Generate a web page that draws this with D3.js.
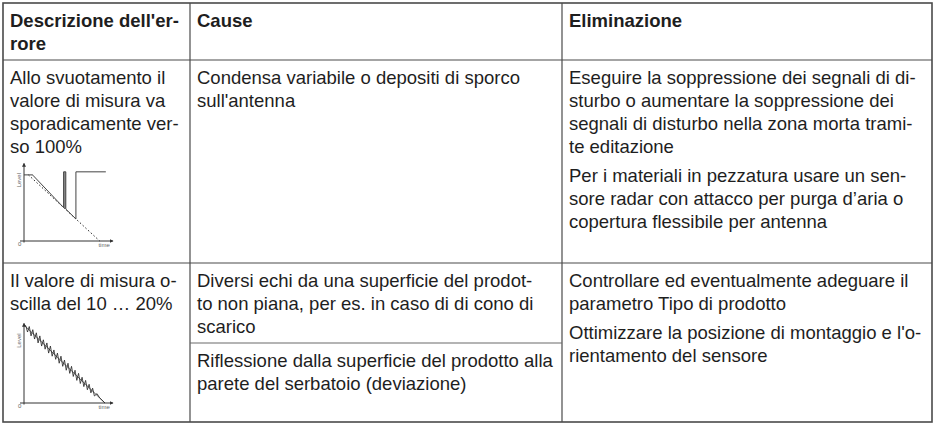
<!DOCTYPE html>
<html><head><meta charset="utf-8">
<script src="https://cdn.jsdelivr.net/npm/d3@7"></script>
<style>body{margin:0;background:#fff}svg{display:block}</style>
</head><body>
<svg id="c" width="935" height="425"></svg>
<script>
// ---------- data ----------
const headers = [["Descrizione dell'er-", "rore"], ["Cause"], ["Eliminazione"]];

const row1Desc = ["Allo svuotamento il", "valore di misura va", "sporadicamente ver-", "so 100%"];
const row1Causes = [["Condensa variabile o depositi di sporco", "sull'antenna"]];
const row1Remedies = [
  ["Eseguire la soppressione dei segnali di di-", "sturbo o aumentare la soppressione dei", "segnali di disturbo nella zona morta trami-", "te editazione"],
  ["Per i materiali in pezzatura usare un sen-", "sore radar con attacco per purga d\u2019aria o", "copertura flessibile per antenna"]
];

const row2Desc = ["Il valore di misura o-", "scilla del 10 \u2026 20%"];
const row2Causes = [
  ["Diversi echi da una superficie del prodot-", "to non piana, per es. in caso di di cono di", "scarico"],
  ["Riflessione dalla superficie del prodotto alla", "parete del serbatoio (deviazione)"]
];
const row2Remedies = [
  ["Controllare ed eventualmente adeguare il", "parametro Tipo di prodotto"],
  ["Ottimizzare la posizione di montaggio e l'o-", "rientamento del sensore"]
];

const axisLabels = {y: "Level", x: "time", origin: "0"};

// mini chart 1: real level (dashed), measured level with spikes to 100%
const chart1Real = [[5, 87], [86, 0]];
const chart1Measured = [[0, 87], [10, 87], [10.5, 86], [45, 44], [45, 91], [47.5, 91], [47.5, 42], [59, 29], [59, 91], [93, 91]];
const chart1Spike = [[45, 44], [45, 91], [47.5, 91], [47.5, 42]];

// mini chart 2: real level and oscillating measured level
const chart2Real = [[0, 100], [92, 0]];
const chart2Measured = [[0, 100], [2, 99], [4, 91], [6, 98], [8, 86], [10, 94], [12, 82], [14, 90], [16, 77], [18, 86], [20, 73], [22, 81], [24, 69], [26, 77], [28, 64], [30, 73], [32, 60], [34, 68], [36, 56], [38, 64], [40, 51], [42, 60], [44, 47], [46, 55], [48, 42], [50, 51], [52, 38], [54, 47], [56, 34], [58, 42], [60, 29], [62, 38], [64, 25], [66, 33], [68, 21], [70, 29], [72, 17], [74, 24], [76, 13], [78, 19], [80, 9], [83, 12], [86, 6.5], [92, 0]];

// ---------- layout ----------
const svg = d3.select("#c");
const colX = [3, 190, 562, 932];
const rowY = [3, 60, 263, 422];
const causeSplitY = 343;
const FS = 18.5, LH = 23, PGAP = 28.5, PADX = 7, BASE = 24;
const textColor = "#1e1e1e";
const lineColor = "#4a4a4a";

// borders
const g = svg.append("g");
g.append("rect").attr("x", colX[0]).attr("y", rowY[0])
  .attr("width", colX[3] - colX[0]).attr("height", rowY[3] - rowY[0])
  .attr("fill", "none").attr("stroke", lineColor).attr("stroke-width", 1.6);
[colX[1], colX[2]].forEach(x => g.append("line").attr("x1", x).attr("x2", x)
  .attr("y1", rowY[0]).attr("y2", rowY[3]).attr("stroke", lineColor).attr("stroke-width", 1.2));
[rowY[1], rowY[2]].forEach(y => g.append("line").attr("x1", colX[0]).attr("x2", colX[3])
  .attr("y1", y).attr("y2", y).attr("stroke", lineColor).attr("stroke-width", 1.2));
g.append("line").attr("x1", colX[1]).attr("x2", colX[2]).attr("y1", causeSplitY).attr("y2", causeSplitY)
  .attr("stroke", "#6a6a6a").attr("stroke-width", 1.1);

function para(x, top, paragraphs, bold) {
  let y = top + BASE;
  paragraphs.forEach((lines, pi) => {
    if (pi > 0) y += PGAP - LH;
    lines.forEach(l => {
      svg.append("text").attr("x", x).attr("y", y).text(l)
        .attr("font-family", "'Liberation Sans', Arial, Helvetica, sans-serif")
        .attr("font-size", FS).attr("font-weight", bold ? "bold" : "normal")
        .attr("fill", textColor);
      y += LH;
    });
  });
}

headers.forEach((h, i) => para(colX[i] + PADX, rowY[0], [h], true));
para(colX[0] + PADX, rowY[1], [row1Desc]);
para(colX[1] + PADX, rowY[1], row1Causes);
para(colX[2] + PADX, rowY[1], row1Remedies);
para(colX[0] + PADX, rowY[2], [row2Desc]);
para(colX[1] + PADX, rowY[2], [row2Causes[0]]);
para(colX[1] + PADX, causeSplitY, [row2Causes[1]]);
para(colX[2] + PADX, rowY[2], row2Remedies);

// ---------- mini charts ----------
svg.append("defs").append("marker").attr("id", "arr")
  .attr("viewBox", "0 0 6 6").attr("refX", 5).attr("refY", 3)
  .attr("markerWidth", 4).attr("markerHeight", 4).attr("orient", "auto")
  .append("path").attr("d", "M0,0L6,3L0,6Z").attr("fill", "#333");

function miniChart(x0, x1, yBottom, yTop, drawFn) {
  const x = d3.scaleLinear().domain([0, 100]).range([x0, x1]);
  const y = d3.scaleLinear().domain([0, 100]).range([yBottom, yTop]);
  const cg = svg.append("g");
  cg.append("line").attr("x1", x(-4.5)).attr("x2", x(101)).attr("y1", y(0)).attr("y2", y(0))
    .attr("stroke", "#333").attr("stroke-width", 1).attr("marker-end", "url(#arr)");
  cg.append("line").attr("x1", x(0)).attr("x2", x(0)).attr("y1", y(-2)).attr("y2", y(102))
    .attr("stroke", "#333").attr("stroke-width", 1).attr("marker-end", "url(#arr)");
  const lab = {"font-family": "'Liberation Sans', Arial, sans-serif", "font-size": 6, fill: "#666"};
  const t1 = cg.append("text").attr("transform", `translate(${x(0) - 3},${y(80)}) rotate(-90)`)
    .attr("text-anchor", "middle").text(axisLabels.y);
  const t2 = cg.append("text").attr("x", x(-5)).attr("y", y(0) + 5).attr("text-anchor", "middle").text(axisLabels.origin);
  const t3 = cg.append("text").attr("x", x(91)).attr("y", y(0) + 6).attr("text-anchor", "middle").text(axisLabels.x);
  [t1, t2, t3].forEach(t => Object.entries(lab).forEach(([k, v]) => t.attr(k, v)));
  drawFn(cg, x, y);
}

miniChart(24, 112, 241, 165, (cg, x, y) => {
  const line = d3.line().x(d => x(d[0])).y(d => y(d[1]));
  cg.append("path").attr("d", line(chart1Spike) + "Z").attr("fill", "#8a8a8a").attr("stroke", "none");
  cg.append("path").attr("d", line(chart1Real)).attr("fill", "none")
    .attr("stroke", "#222").attr("stroke-width", 1).attr("stroke-dasharray", "1.5,2.2");
  cg.append("path").attr("d", line(chart1Measured)).attr("fill", "none")
    .attr("stroke", "#444").attr("stroke-width", 1);
});

miniChart(24, 112, 403, 325, (cg, x, y) => {
  const line = d3.line().x(d => x(d[0])).y(d => y(d[1]));
  cg.append("path").attr("d", line(chart2Real)).attr("fill", "none")
    .attr("stroke", "#444").attr("stroke-width", 0.8);
  cg.append("path").attr("d", line(chart2Measured)).attr("fill", "none")
    .attr("stroke", "#222").attr("stroke-width", 0.8);
});
</script>
</body></html>
